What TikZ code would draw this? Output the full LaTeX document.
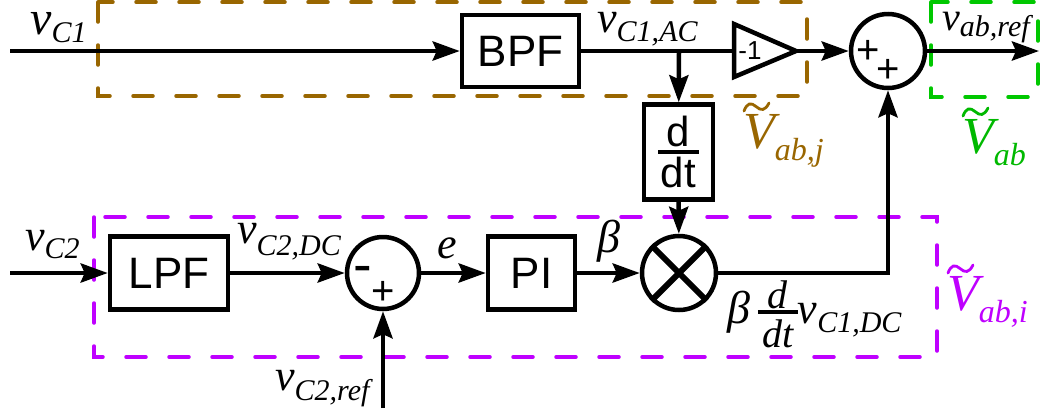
\documentclass[tikz,border=0pt]{standalone}
\usepackage{fontspec}
\setmainfont{Liberation Serif}
\setsansfont{Liberation Sans}
\usepackage{graphicx}
\usetikzlibrary{arrows.meta,calc}
\definecolor{brn}{RGB}{153,102,0}
\definecolor{grn}{RGB}{0,200,0}
\definecolor{grt}{RGB}{0,185,0}
\definecolor{prp}{RGB}{191,0,255}

% italic variable with lowered subscript: size, letter, subscript, drop
\newcommand{\vlab}[4]{{\fontsize{#1}{#1}\selectfont\itshape #2\raisebox{-#4}{\fontsize{30}{30}\selectfont #3}}}
% V with subscript (tilde drawn separately)
\newcommand{\Vt}[1]{{\fontsize{52}{52}\selectfont\itshape V\raisebox{-12pt}{\fontsize{32}{32}\selectfont #1}}}
% tilde above a V label: node name, colour
\newcommand{\tld}[2]{\draw[#2, line width=2.8pt, line cap=round]
  ($(#1.base west)+(1,-37)$) .. controls ($(#1.base west)+(4,-45)$) and ($(#1.base west)+(8,-46)$) .. ($(#1.base west)+(13,-41.5)$)
  .. controls ($(#1.base west)+(18,-37)$) and ($(#1.base west)+(22,-37)$) .. ($(#1.base west)+(26,-45)$);}
% d over dt, sans, for the box
\newcommand{\ddtbox}{\vbox{\hbox to 41pt{\hfil d\hfil}\kern 3pt\hrule height 4pt\kern 4pt\hbox to 41pt{\hfil dt\hfil}}}
% italic d over dt for the label
\newcommand{\ddtlab}{\raisebox{-24pt}{\vbox{\hbox to 40pt{\hfil d\hfil}\kern 1pt\hrule height 4pt\kern 5pt\hbox to 40pt{\hfil dt\hfil}}}}

\begin{document}
\begin{tikzpicture}[x=1pt,y=-1pt,
  blk/.style={draw, line width=4.5pt, inner sep=0pt, font=\sffamily\fontsize{44}{44}\selectfont},
  sumc/.style={draw, circle, line width=4.5pt, minimum size=74pt, inner sep=0pt},
  sig/.style={line width=4.5pt, -{Stealth[length=27pt,width=19pt,inset=4pt]}},
  wire/.style={line width=4.5pt},
  region/.style={line width=3.5pt, dash pattern=on 20pt off 23pt, line cap=round},
  lab/.style={inner sep=0pt, anchor=base west},
  sign/.style={inner sep=0pt, font=\sffamily\fontsize{40}{40}\selectfont}]

\fill[white] (0,0) rectangle (1040,410);
\useasboundingbox (0,0) rectangle (1040,410);

% dashed regions
\draw[region, brn] (98,2) rectangle (807,96);
\draw[region, grn] (931,2) rectangle (1038,97);
\draw[region, prp] (94,217) rectangle (937,357);

% blocks
\node[blk, minimum width=117pt, minimum height=72pt] (bpf) at (520.5,51) {BPF};
\node[blk, minimum width=69pt, minimum height=95pt, font=\sffamily\fontsize{42}{42}\selectfont] (ddt) at (678.5,152) {\ddtbox};
\node[sumc] (s1) at (888,51) {};
\node[sign] (p1) at (868,52) {+};
\node[sign] (p2) at (888,71) {+};

\node[blk, minimum width=118pt, minimum height=73pt] (lpf) at (169,273) {LPF};
\node[sumc, minimum size=72pt] (s2) at (383,273) {};
\node[sign, font=\sffamily\fontsize{56}{56}\selectfont] (m3) at (363,275) {-};
\node[sign] (p3) at (383,293) {+};
\node[blk, minimum width=87pt, minimum height=73pt] (pi) at (531.5,273) {PI};
\node[sumc] (mul) at (679,273) {};
\draw[line width=6pt] (mul.45) -- (mul.225) (mul.135) -- (mul.315);

% gain triangle
\coordinate (gin) at (734,51);
\coordinate (gout) at (796,51);
\draw[line width=4.5pt, line join=miter] ($(gin)+(0,-27)$) -- (gout) -- ($(gin)+(0,26)$) -- cycle;
\node[inner sep=0pt, font=\sffamily\fontsize{26}{26}\selectfont] (gtxt) at (750,51) {-1};

% free ends
\coordinate (in1) at (10,51);
\coordinate (br) at (679,51);
\coordinate (out) at (1039,51);
\coordinate (in2) at (10,273);
\coordinate (ref) at (383,408);

% connectors
\draw[sig] (in1) -- (bpf);
\draw[wire] (bpf) -- (gin);
\draw[sig] (br) -- (ddt);
\draw[sig] (gout) -- (s1);
\draw[sig] (s1) -- (out);
\draw[sig] (in2) -- (lpf);
\draw[sig] (lpf) -- (s2);
\draw[sig] (s2) -- (pi);
\draw[sig] (pi) -- (mul);
\draw[sig] (ddt) -- (mul);
\draw[sig] (mul) -| (s1);
\draw[sig] (ref) -- (s2);

% labels
\node[lab] (lvc1) at (30,34) {\vlab{48}{v}{C1}{8pt}};
\node[lab] (lvc1ac) at (597,32) {\vlab{44}{v}{C1,AC}{9pt}};
\node[lab] (lvabref) at (942,30) {\vlab{40}{v}{ab,ref}{6pt}};
\node[lab, text=brn] (lvabj) at (743,148) {\Vt{ab,j}};
\node[lab, text=grt] (lvab) at (962,153) {\Vt{ab}};
\node[lab] (lvc2) at (25,250) {\vlab{44}{v}{C2}{8pt}};
\node[lab] (lvc2dc) at (237,243) {\vlab{44}{v}{C2,DC}{12pt}};
\node[lab] (le) at (437,258) {\vlab{44}{e}{}{0pt}};
\node[lab] (lbeta) at (597,252) {\fontsize{46}{46}\selectfont\itshape β};
\node[lab] (lvc2ref) at (275,390) {\vlab{44}{v}{C2,ref}{10pt}};
\node[lab] (lprod) at (727,323) {\fontsize{46}{46}\selectfont\itshape β\,{\fontsize{40}{40}\selectfont\ddtlab}\vlab{44}{v}{C1,DC}{9pt}};
\node[lab, text=prp] (lvabi) at (947,310) {\Vt{ab,i}};
\tld{lvabj}{brn}
\tld{lvab}{grt}
\tld{lvabi}{prp}
\end{tikzpicture}
\end{document}
